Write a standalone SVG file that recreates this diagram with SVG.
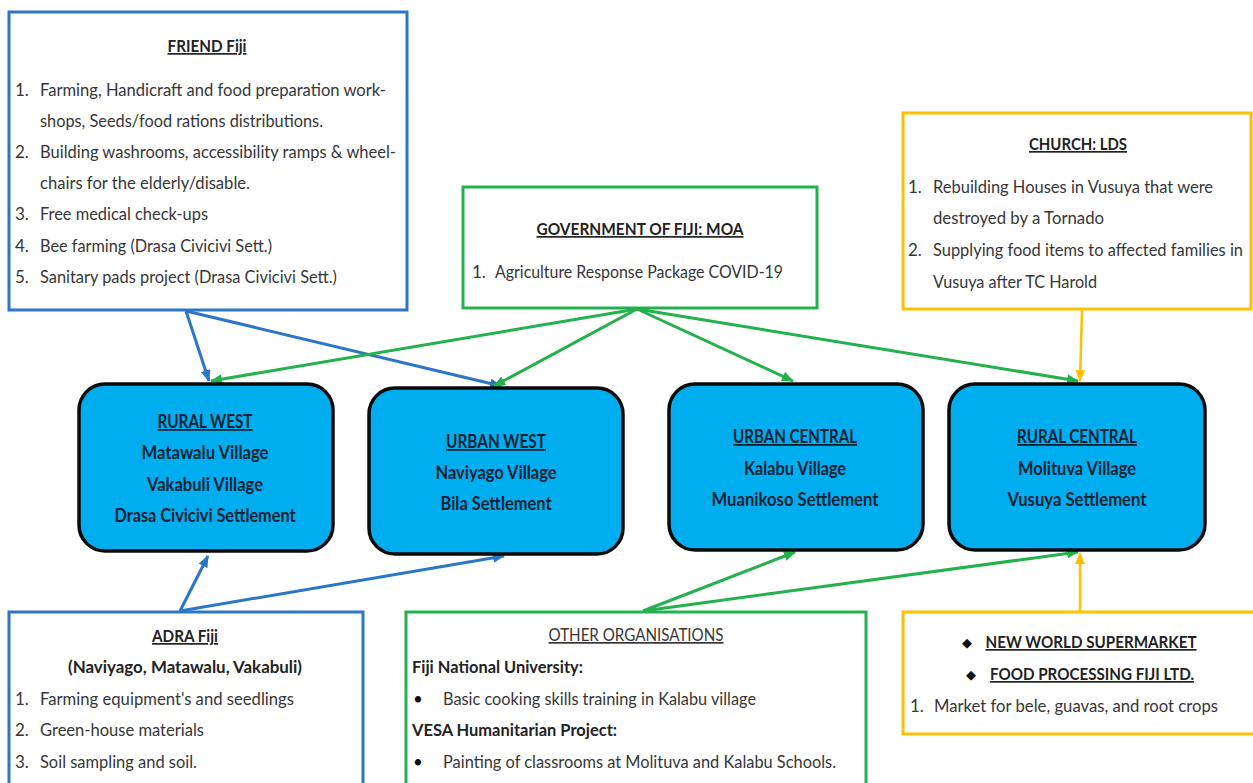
<svg xmlns="http://www.w3.org/2000/svg" width="1253" height="783" viewBox="0 0 1253 783">
  <style>
    text { font-family: Lato, "Open Sans", "Liberation Sans", sans-serif; font-size: 17px; fill: #363636; }
    .ttl { font-weight: bold; fill: #222222; text-decoration: underline; text-anchor: middle; }
    .ttl-n { fill: #363636; text-decoration: underline; text-anchor: middle; }
    .bold { font-weight: bold; fill: #222222; }
    .ctr { text-anchor: middle; }
    .node-t { font-weight: bold; fill: #0d2233; text-anchor: middle; font-size: 18px; }
    .node-h { text-decoration: underline; }
    .dia { font-family: "DejaVu Sans", sans-serif; font-size: 13px; fill: #111111; text-anchor: middle; }
    .box-b { fill: #ffffff; stroke: #2c76c6; stroke-width: 3; }
    .box-g { fill: #ffffff; stroke: #22b14c; stroke-width: 3; }
    .box-o { fill: #ffffff; stroke: #ffc000; stroke-width: 3; }
    .node { fill: #00adef; stroke: #0a0a0a; stroke-width: 3.5; }
    .c-b { stroke: #2c76c6; stroke-width: 3; fill: none; marker-end: url(#ah-b); }
    .c-g { stroke: #22b14c; stroke-width: 3; fill: none; marker-end: url(#ah-g); }
    .c-o { stroke: #ffc000; stroke-width: 2.5; fill: none; marker-end: url(#ah-o); }
  </style>
  <defs>
    <marker id="ah-b" markerUnits="userSpaceOnUse" markerWidth="12" markerHeight="10" refX="11" refY="5" orient="auto">
      <path d="M0,0 L12,5 L0,10 z" fill="#2c76c6"/>
    </marker>
    <marker id="ah-g" markerUnits="userSpaceOnUse" markerWidth="12" markerHeight="10" refX="11" refY="5" orient="auto">
      <path d="M0,0 L12,5 L0,10 z" fill="#22b14c"/>
    </marker>
    <marker id="ah-o" markerUnits="userSpaceOnUse" markerWidth="12" markerHeight="10" refX="11" refY="5" orient="auto">
      <path d="M0,0 L12,5 L0,10 z" fill="#ffc000"/>
    </marker>
  </defs>

  <rect width="1253" height="783" fill="#ffffff"/>

  <!-- connectors -->
  <g id="connectors">
    <!-- FRIEND Fiji -->
    <line class="c-b" x1="186" y1="311" x2="209" y2="381"/>
    <line class="c-b" x1="186" y1="311" x2="501" y2="386"/>
    <!-- Government of Fiji -->
    <line class="c-g" x1="637" y1="309" x2="211" y2="381"/>
    <line class="c-g" x1="637" y1="309" x2="494" y2="386"/>
    <line class="c-g" x1="637" y1="309" x2="793" y2="381"/>
    <line class="c-g" x1="637" y1="309" x2="1078" y2="381"/>
    <!-- Church -->
    <line class="c-o" x1="1082" y1="310" x2="1080" y2="381"/>
    <!-- ADRA Fiji -->
    <line class="c-b" x1="180" y1="611" x2="208" y2="556"/>
    <line class="c-b" x1="180" y1="611" x2="504" y2="556"/>
    <!-- Other organisations -->
    <line class="c-g" x1="643" y1="611" x2="795" y2="552"/>
    <line class="c-g" x1="643" y1="611" x2="1078" y2="552"/>
    <!-- Supermarket / food processing -->
    <line class="c-o" x1="1080" y1="611" x2="1080" y2="553"/>
  </g>

  <!-- FRIEND Fiji -->
  <g id="friend-fiji">
    <rect class="box-b" x="9" y="12" width="398" height="298"/>
    <text class="ttl" x="207" y="52" textLength="79" lengthAdjust="spacingAndGlyphs">FRIEND Fiji</text>
    <text x="15" y="96">1.</text>
    <text x="40" y="96" textLength="346" lengthAdjust="spacingAndGlyphs">Farming, Handicraft and food preparation work-</text>
    <text x="40" y="127" textLength="283" lengthAdjust="spacingAndGlyphs">shops, Seeds/food rations distributions.</text>
    <text x="15" y="158">2.</text>
    <text x="40" y="158" textLength="356" lengthAdjust="spacingAndGlyphs">Building washrooms, accessibility ramps &amp; wheel-</text>
    <text x="40" y="189" textLength="210" lengthAdjust="spacingAndGlyphs">chairs for the elderly/disable.</text>
    <text x="15" y="220">3.</text>
    <text x="40" y="220" textLength="168" lengthAdjust="spacingAndGlyphs">Free medical check-ups</text>
    <text x="15" y="252">4.</text>
    <text x="40" y="252" textLength="232" lengthAdjust="spacingAndGlyphs">Bee farming (Drasa Civicivi Sett.)</text>
    <text x="15" y="283">5.</text>
    <text x="40" y="283" textLength="297" lengthAdjust="spacingAndGlyphs">Sanitary pads project (Drasa Civicivi Sett.)</text>
  </g>

  <!-- Government of Fiji: MOA -->
  <g id="gov-fiji">
    <rect class="box-g" x="463" y="187" width="354" height="121"/>
    <text class="ttl" x="640" y="235" textLength="207" lengthAdjust="spacingAndGlyphs">GOVERNMENT OF FIJI: MOA</text>
    <text x="472" y="278">1.</text>
    <text x="495" y="278" textLength="288" lengthAdjust="spacingAndGlyphs">Agriculture Response Package COVID-19</text>
  </g>

  <!-- Church: LDS -->
  <g id="church-lds">
    <rect class="box-o" x="903" y="113" width="348" height="196"/>
    <text class="ttl" x="1078" y="150" textLength="98" lengthAdjust="spacingAndGlyphs">CHURCH: LDS</text>
    <text x="908" y="193">1.</text>
    <text x="933" y="193" textLength="280" lengthAdjust="spacingAndGlyphs">Rebuilding Houses in Vusuya that were</text>
    <text x="933" y="224" textLength="171" lengthAdjust="spacingAndGlyphs">destroyed by a Tornado</text>
    <text x="908" y="256">2.</text>
    <text x="933" y="256" textLength="310" lengthAdjust="spacingAndGlyphs">Supplying food items to affected families in</text>
    <text x="933" y="288" textLength="164" lengthAdjust="spacingAndGlyphs">Vusuya after TC Harold</text>
  </g>

  <!-- Rural West -->
  <g id="rural-west">
    <rect class="node" x="79" y="384" width="254" height="167" rx="26"/>
    <text class="node-t node-h" x="205" y="428" textLength="95" lengthAdjust="spacingAndGlyphs">RURAL WEST</text>
    <text class="node-t" x="205" y="459" textLength="127" lengthAdjust="spacingAndGlyphs">Matawalu Village</text>
    <text class="node-t" x="205" y="491" textLength="116" lengthAdjust="spacingAndGlyphs">Vakabuli Village</text>
    <text class="node-t" x="205" y="522" textLength="181" lengthAdjust="spacingAndGlyphs">Drasa Civicivi Settlement</text>
  </g>

  <!-- Urban West -->
  <g id="urban-west">
    <rect class="node" x="369" y="388" width="254" height="166" rx="26"/>
    <text class="node-t node-h" x="496" y="448" textLength="100" lengthAdjust="spacingAndGlyphs">URBAN WEST</text>
    <text class="node-t" x="496" y="479" textLength="121" lengthAdjust="spacingAndGlyphs">Naviyago Village</text>
    <text class="node-t" x="496" y="510" textLength="111" lengthAdjust="spacingAndGlyphs">Bila Settlement</text>
  </g>

  <!-- Urban Central -->
  <g id="urban-central">
    <rect class="node" x="669" y="384" width="254" height="166" rx="26"/>
    <text class="node-t node-h" x="795" y="443" textLength="124" lengthAdjust="spacingAndGlyphs">URBAN CENTRAL</text>
    <text class="node-t" x="795" y="475" textLength="102" lengthAdjust="spacingAndGlyphs">Kalabu Village</text>
    <text class="node-t" x="795" y="506" textLength="167" lengthAdjust="spacingAndGlyphs">Muanikoso Settlement</text>
  </g>

  <!-- Rural Central -->
  <g id="rural-central">
    <rect class="node" x="949" y="384" width="256" height="166" rx="26"/>
    <text class="node-t node-h" x="1077" y="443" textLength="120" lengthAdjust="spacingAndGlyphs">RURAL CENTRAL</text>
    <text class="node-t" x="1077" y="475" textLength="118" lengthAdjust="spacingAndGlyphs">Molituva Village</text>
    <text class="node-t" x="1077" y="506" textLength="139" lengthAdjust="spacingAndGlyphs">Vusuya Settlement</text>
  </g>

  <!-- ADRA Fiji -->
  <g id="adra-fiji">
    <rect class="box-b" x="9" y="612" width="354" height="175"/>
    <text class="ttl" x="185" y="642" textLength="66" lengthAdjust="spacingAndGlyphs">ADRA Fiji</text>
    <text class="bold ctr" x="185" y="673" textLength="234" lengthAdjust="spacingAndGlyphs">(Naviyago, Matawalu, Vakabuli)</text>
    <text x="15" y="705">1.</text>
    <text x="40" y="705" textLength="254" lengthAdjust="spacingAndGlyphs">Farming equipment's and seedlings</text>
    <text x="15" y="736">2.</text>
    <text x="40" y="736" textLength="164" lengthAdjust="spacingAndGlyphs">Green-house materials</text>
    <text x="15" y="768">3.</text>
    <text x="40" y="768" textLength="157" lengthAdjust="spacingAndGlyphs">Soil sampling and soil.</text>
  </g>

  <!-- Other organisations -->
  <g id="other-organisations">
    <rect class="box-g" x="406" y="612" width="460" height="175"/>
    <text class="ttl-n" x="636" y="641" textLength="175" lengthAdjust="spacingAndGlyphs">OTHER ORGANISATIONS</text>
    <text class="bold" x="412" y="673" textLength="171" lengthAdjust="spacingAndGlyphs">Fiji National University:</text>
    <text x="413" y="705" style="fill:#111111">•</text>
    <text x="443" y="705" textLength="313" lengthAdjust="spacingAndGlyphs">Basic cooking skills training in Kalabu village</text>
    <text class="bold" x="412" y="736" textLength="205" lengthAdjust="spacingAndGlyphs">VESA Humanitarian Project:</text>
    <text x="413" y="768" style="fill:#111111">•</text>
    <text x="443" y="768" textLength="393" lengthAdjust="spacingAndGlyphs">Painting of classrooms at Molituva and Kalabu Schools.</text>
  </g>

  <!-- Supermarket and food processing -->
  <g id="market-partners">
    <rect class="box-o" x="903" y="612" width="352" height="122"/>
    <text class="dia" x="967" y="647">◆</text>
    <text class="ttl" x="1091" y="648" textLength="211" lengthAdjust="spacingAndGlyphs">NEW WORLD SUPERMARKET</text>
    <text class="dia" x="971" y="679">◆</text>
    <text class="ttl" x="1092" y="680" textLength="204" lengthAdjust="spacingAndGlyphs">FOOD PROCESSING FIJI LTD.</text>
    <text x="910" y="712">1.</text>
    <text x="934" y="712" textLength="284" lengthAdjust="spacingAndGlyphs">Market for bele, guavas, and root crops</text>
  </g>
</svg>
